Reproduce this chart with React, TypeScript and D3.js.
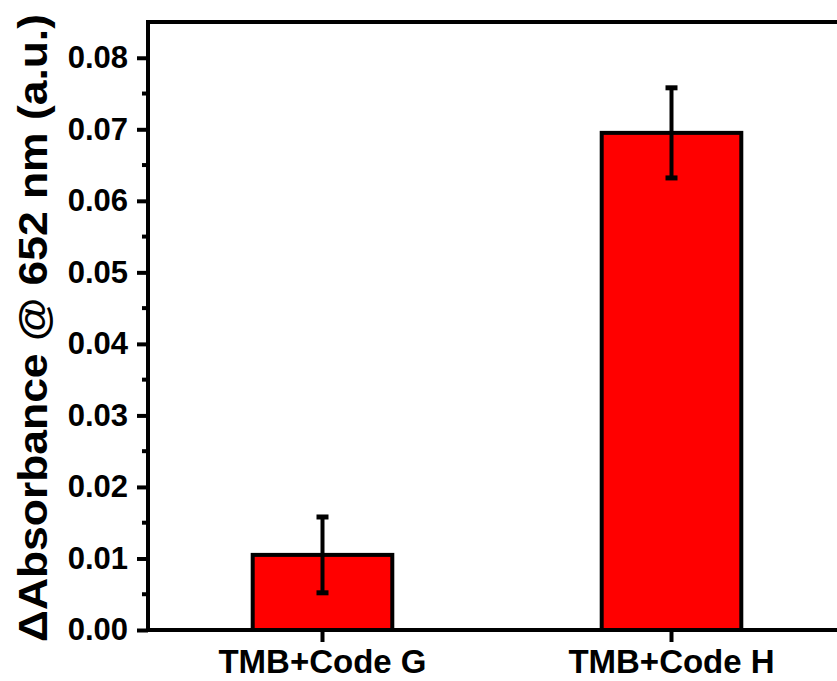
import React, { useEffect, useRef } from 'react';
import * as d3 from 'd3';

// values
const CATEGORIES = ['TMB+Code G', 'TMB+Code H'];
const MEANS = [0.0105, 0.0695];
const ERRORS = [0.0053, 0.0063];
const Y_TICKS = [0, 0.01, 0.02, 0.03, 0.04, 0.05, 0.06, 0.07, 0.08];
const Y_MINOR = [0.005, 0.015, 0.025, 0.035, 0.045, 0.055, 0.065, 0.075];

const W = 837;
const H = 681;
const margin = { top: 22, right: -9, bottom: 51, left: 148 };
const FONT = '"Liberation Sans", Arial, sans-serif';

const App = () => {
  const ref = useRef<SVGSVGElement | null>(null);

  useEffect(() => {
    const svg = d3.select(ref.current);
    svg.selectAll('*').remove();

    const x0 = margin.left;
    const x1 = W - margin.right;
    const yBottom = H - margin.bottom;

    const x = d3.scaleBand<string>()
      .domain(CATEGORIES)
      .range([x0, x1])
      .paddingInner(0.6)
      .paddingOuter(0.3);

    const y = d3.scaleLinear()
      .domain([0, 0.085])
      .range([yBottom, margin.top]);

    const data = CATEGORIES.map((c, i) => ({ c, v: MEANS[i], e: ERRORS[i] }));

    // bars
    svg.append('g')
      .selectAll('rect')
      .data(data)
      .enter().append('rect')
      .attr('x', d => x(d.c)!)
      .attr('y', d => y(d.v))
      .attr('width', x.bandwidth())
      .attr('height', d => yBottom - y(d.v))
      .attr('fill', '#ff0000')
      .attr('stroke', '#000')
      .attr('stroke-width', 4);

    // error bars
    const eb = svg.append('g').selectAll('g')
      .data(data)
      .enter().append('g')
      .attr('transform', d => `translate(${x(d.c)! + x.bandwidth() / 2},0)`);
    eb.append('line')
      .attr('y1', d => y(d.v + d.e))
      .attr('y2', d => y(d.v - d.e))
      .attr('stroke', '#000')
      .attr('stroke-width', 4);
    eb.selectAll('line.cap')
      .data(d => [d.v + d.e, d.v - d.e])
      .enter().append('line')
      .attr('class', 'cap')
      .attr('x1', -6)
      .attr('x2', 6)
      .attr('y1', v => y(v))
      .attr('y2', v => y(v))
      .attr('stroke', '#000')
      .attr('stroke-width', 5);

    // frame
    svg.append('rect')
      .attr('x', x0)
      .attr('y', margin.top)
      .attr('width', x1 - x0)
      .attr('height', yBottom - margin.top)
      .attr('fill', 'none')
      .attr('stroke', '#000')
      .attr('stroke-width', 4);

    // y axis
    const yAxis = svg.append('g')
      .attr('transform', `translate(${x0},0)`)
      .call(d3.axisLeft(y).tickValues(Y_TICKS).tickSize(11).tickPadding(9)
        .tickFormat(d3.format('.2f')));
    yAxis.select('.domain').remove();
    yAxis.selectAll('line').attr('stroke', '#000').attr('stroke-width', 4);
    yAxis.selectAll('text')
      .attr('font-family', FONT)
      .attr('font-weight', 'bold')
      .attr('font-size', 31)
      .attr('fill', '#000');

    svg.append('g')
      .selectAll('line')
      .data(Y_MINOR)
      .enter().append('line')
      .attr('x1', x0 - 6)
      .attr('x2', x0)
      .attr('y1', d => y(d))
      .attr('y2', d => y(d))
      .attr('stroke', '#000')
      .attr('stroke-width', 4);

    // x axis
    const xAxis = svg.append('g')
      .attr('transform', `translate(0,${yBottom})`)
      .call(d3.axisBottom(x).tickSize(12).tickPadding(8));
    xAxis.select('.domain').remove();
    xAxis.selectAll('line').attr('stroke', '#000').attr('stroke-width', 4);
    xAxis.selectAll('text')
      .attr('font-family', FONT)
      .attr('font-weight', 'bold')
      .attr('font-size', 33)
      .attr('fill', '#000');

    // y title
    svg.append('text')
      .attr('transform', `translate(47,${(643 + 13) / 2}) rotate(-90)`)
      .attr('text-anchor', 'middle')
      .attr('font-family', FONT)
      .attr('font-weight', 'bold')
      .attr('font-size', 40)
      .attr('textLength', 628)
      .attr('lengthAdjust', 'spacingAndGlyphs')
      .text('ΔAbsorbance @ 652 nm (a.u.)');
  }, []);

  return (
    <svg
      ref={ref}
      width={W}
      height={H}
      style={{ position: 'absolute', left: 0, top: 0, background: '#fff' }}
    />
  );
};

export default App;
